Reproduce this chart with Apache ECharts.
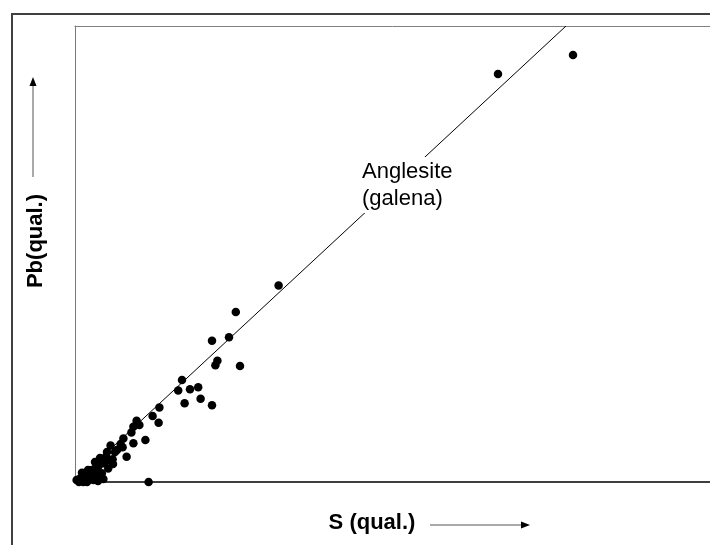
<!DOCTYPE html>
<html>
<head>
<meta charset="utf-8">
<script src="https://cdn.jsdelivr.net/npm/echarts@6/dist/echarts.min.js"></script>
<style>
  html, body { margin: 0; padding: 0; background: #fff; }
  #chart { width: 710px; height: 545px; }
</style>
</head>
<body>
<div id="chart"></div>
<script>
// S and Pb values (qualitative units)
const sQual = [124.5, 105.75, 50.9, 40.2, 34.25, 38.5, 35.6, 35.1, 41.25, 26.75,
  25.8, 28.75, 30.8, 31.4, 27.4, 34.25, 21.1, 19.4, 20.9, 15.4,
  14.6, 16.1, 14.1, 17.6, 14.6, 12.1, 11.4, 11.9, 8.9, 12.9,
  9.4, 7.75, 7.1, 5.9, 5.25, 4.2, 3.75, 7.1, 2.9, 1.75,
  1.25, 0.4, 18.4, 2.1, 4.6, 8.75, 8.3, 6.7, 5.4, 10,
  1, 3, 6.25, 3.25, 5, 6.25, 8, 10.5, 2.5, 4.25,
  5.75, 9.5, 7.5];
const pbQual = [106.75, 102, 49.1, 42.5, 35.3, 36.2, 30.3, 29.2, 29, 25.5,
  22.9, 23.2, 23.7, 20.8, 19.7, 19.2, 18.6, 16.5, 14.8, 15.3,
  13.8, 14.25, 12.4, 10.5, 9.7, 10.9, 9.5, 8.7, 9.1, 6.3,
  5.7, 6.3, 4.7, 4, 3.4, 3, 2, 0.75, 0.9, 2.3,
  0.9, 0.5, 0, 0, 0.5, 5.5, 3.4, 2.2, 1.75, 7.5,
  0, 0, 1, 3, 5, 6, 7.5, 8, 1.5, 1,
  0.25, 4.5, 5];

// anglesite (galena) reference line
const lineS = [0, 122.75];
const linePb = [0, 114];

const font = '"Liberation Sans", Arial, sans-serif';

var chart = echarts.init(document.getElementById('chart'));

function hiddenParts() {
  return {
    axisTick: { show: false },
    axisLabel: { show: false },
    splitLine: { show: false }
  };
}

var option = {
  animation: false,
  backgroundColor: '#fff',
  grid: {
    left: 75,
    top: 26,
    width: 635,
    height: 456
  },
  xAxis: [
    Object.assign({
      type: 'value',
      min: 0,
      max: 158.75,
      position: 'bottom',
      axisLine: { show: true, lineStyle: { color: '#000', width: 1.5 } }
    }, hiddenParts()),
    // top frame line of the plot
    Object.assign({
      type: 'value',
      min: 0,
      max: 158.75,
      position: 'top',
      axisLine: { show: true, lineStyle: { color: '#808080', width: 1 } }
    }, hiddenParts())
  ],
  yAxis: Object.assign({
    type: 'value',
    min: 0,
    max: 114,
    axisLine: { show: true, lineStyle: { color: '#777', width: 1 } }
  }, hiddenParts()),
  series: [
    {
      type: 'line',
      data: lineS.map((s, i) => [s, linePb[i]]),
      symbol: 'none',
      lineStyle: { color: '#000', width: 1 },
      z: 2
    },
    {
      type: 'scatter',
      data: sQual.map((s, i) => [s, pbQual[i]]),
      symbol: 'circle',
      symbolSize: 8.5,
      clip: false,
      itemStyle: { color: '#000', opacity: 1 },
      z: 3
    }
  ],
  graphic: [
    // outer frame
    {
      type: 'rect',
      shape: { x: 12, y: 14, width: 720, height: 560 },
      style: { fill: 'none', stroke: '#404040', lineWidth: 2 }
    },
    // annotation, with a white box that hides the line behind it
    {
      type: 'text',
      x: 362, y: 157,
      z: 10,
      style: {
        text: 'Anglesite\n(galena)',
        font: '22px ' + font,
        fill: '#000',
        lineHeight: 27,
        backgroundColor: '#fff',
        padding: [1, 2, 1, 0]
      }
    },
    // x axis title and arrow
    {
      type: 'text',
      x: 372, y: 523,
      style: {
        text: 'S (qual.)',
        font: 'bold 22px ' + font,
        fill: '#000',
        align: 'center',
        verticalAlign: 'middle'
      }
    },
    {
      type: 'line',
      shape: { x1: 430, y1: 525, x2: 523, y2: 525 },
      style: { stroke: '#555', lineWidth: 1 }
    },
    {
      type: 'polygon',
      shape: { points: [[530, 525], [521, 521.5], [521, 528.5]] },
      style: { fill: '#000' }
    },
    // y axis title and arrow
    {
      type: 'text',
      x: 36, y: 241,
      rotation: Math.PI / 2,
      style: {
        text: 'Pb(qual.)',
        font: 'bold 22px ' + font,
        fill: '#000',
        align: 'center',
        verticalAlign: 'middle'
      }
    },
    {
      type: 'line',
      shape: { x1: 33, y1: 177, x2: 33, y2: 84 },
      style: { stroke: '#555', lineWidth: 1 }
    },
    {
      type: 'polygon',
      shape: { points: [[33, 77], [29.5, 86], [36.5, 86]] },
      style: { fill: '#000' }
    }
  ]
};

chart.setOption(option);
</script>
</body>
</html>
